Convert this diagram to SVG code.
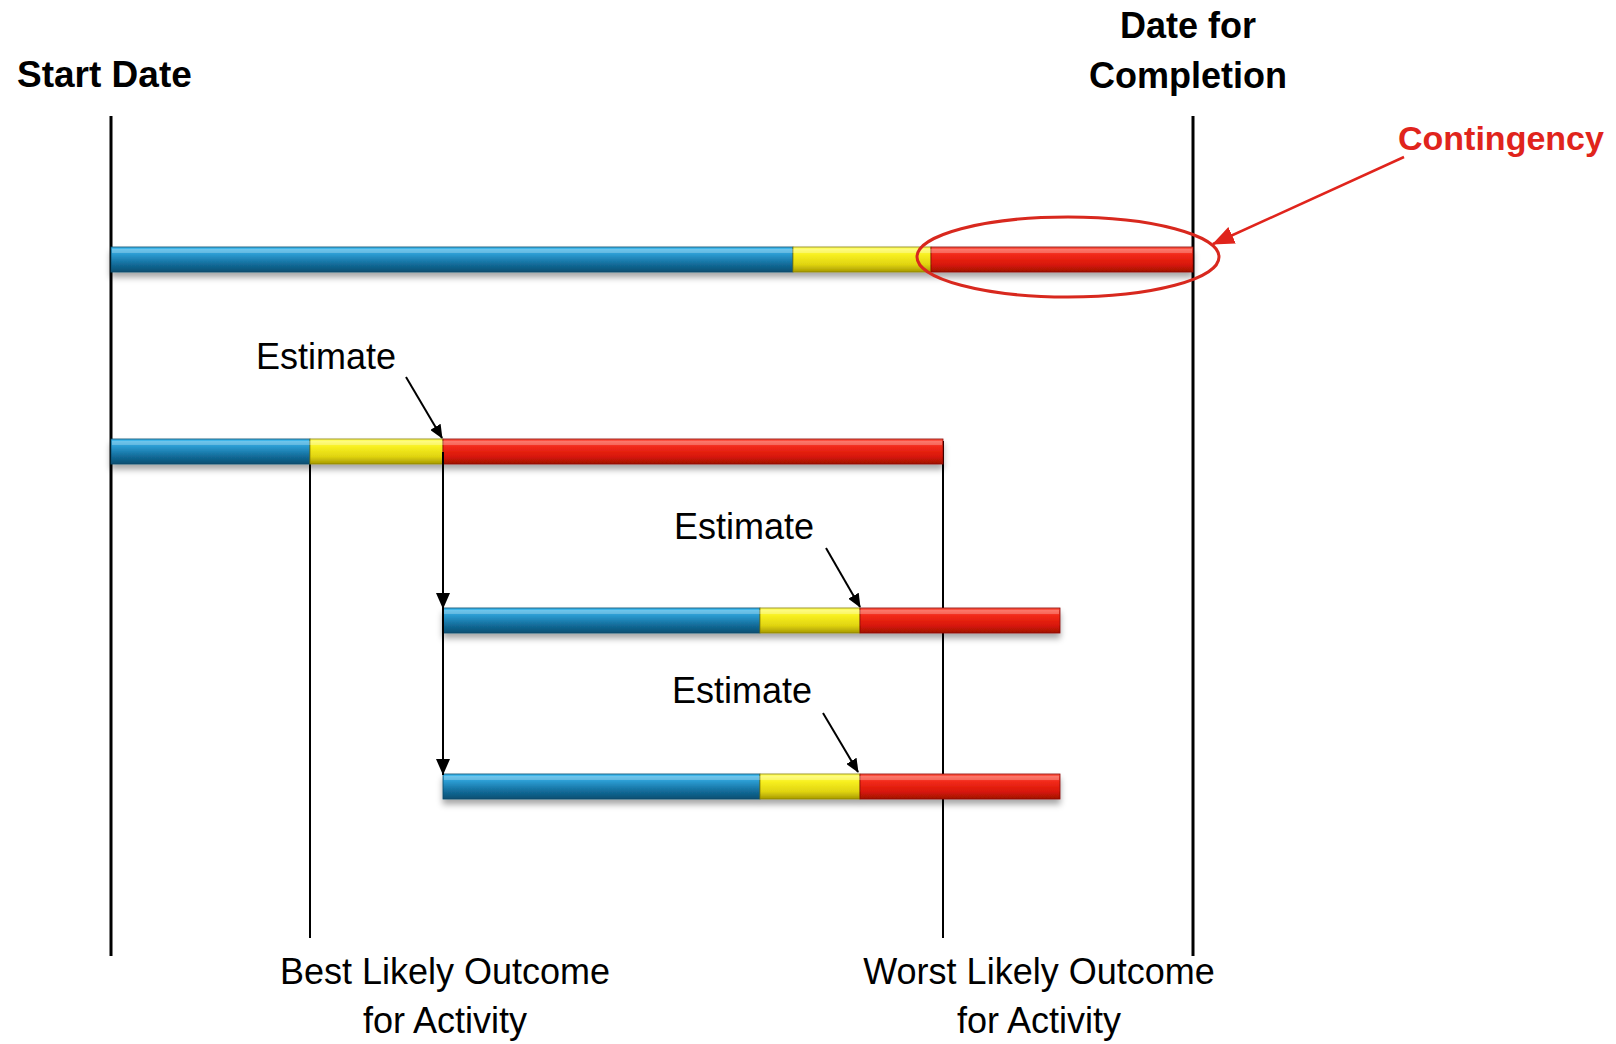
<svg xmlns="http://www.w3.org/2000/svg" width="1616" height="1044" viewBox="0 0 1616 1044">
<style>
.lbl{font-family:"Liberation Sans",Arial,sans-serif;font-size:36px;fill:#000}
.bold{font-weight:bold}
.red{fill:#e0241c}
.vline{stroke:#000;stroke-width:3;fill:none}
.tline{stroke:#000;stroke-width:2;fill:none}
.conn{stroke:#000;stroke-width:2;fill:none}
.blue{fill:url(#gBlue);stroke:#0a4a6a;stroke-width:0.8}
.yellow{fill:url(#gYellow);stroke:#8a8000;stroke-width:0.8}
.redbar{fill:url(#gRed);stroke:#8a0c05;stroke-width:0.8}
.hl{fill:#fff;opacity:0.25}
</style>
<defs>
<linearGradient id="gBlue" x1="0" y1="0" x2="0" y2="1">
<stop offset="0" stop-color="#45bdf0"/><stop offset="0.3" stop-color="#2a9ad0"/><stop offset="0.7" stop-color="#126a98"/><stop offset="1" stop-color="#0b4f72"/>
</linearGradient>
<linearGradient id="gYellow" x1="0" y1="0" x2="0" y2="1">
<stop offset="0" stop-color="#ffff70"/><stop offset="0.3" stop-color="#f8f020"/><stop offset="0.7" stop-color="#e0d410"/><stop offset="1" stop-color="#a89a00"/>
</linearGradient>
<linearGradient id="gRed" x1="0" y1="0" x2="0" y2="1">
<stop offset="0" stop-color="#ff5a48"/><stop offset="0.3" stop-color="#f22a1a"/><stop offset="0.7" stop-color="#d81808"/><stop offset="1" stop-color="#a01005"/>
</linearGradient>
<filter id="shadow" x="-5%" y="-50%" width="110%" height="250%">
<feDropShadow dx="0" dy="5" stdDeviation="3" flood-color="#000" flood-opacity="0.35"/>
</filter>
<marker id="ah" markerWidth="14" markerHeight="12" refX="13" refY="6" orient="auto" markerUnits="userSpaceOnUse">
<path d="M0,0 L14,6 L0,12 z" fill="#000"/>
</marker>
<marker id="ahv" markerWidth="16" markerHeight="14" refX="16" refY="7" orient="auto" markerUnits="userSpaceOnUse">
<path d="M0,0 L16,7 L0,14 z" fill="#000"/>
</marker>
<marker id="ahr" markerWidth="22" markerHeight="18" refX="21" refY="9" orient="auto" markerUnits="userSpaceOnUse">
<path d="M0,0 L22,9 L0,18 z" fill="#e0241c"/>
</marker>
</defs>

<g id="timeline-lines">
<line class="vline" x1="111" y1="116" x2="111" y2="956"/>
<line class="vline" x1="1193" y1="116" x2="1193" y2="956"/>
<line class="tline" x1="310" y1="452" x2="310" y2="938"/>
<line class="tline" x1="943" y1="441" x2="943" y2="938"/>
</g>

<g id="bar1" filter="url(#shadow)">
<rect class="blue" x="111" y="247" width="682" height="25"/>
<rect class="yellow" x="793" y="247" width="138" height="25"/>
<rect class="redbar" x="931" y="247" width="262" height="25"/>
<rect class="hl" x="112" y="249" width="1080" height="4"/>
</g>

<g id="bar2" filter="url(#shadow)">
<rect class="blue" x="111" y="439" width="199" height="25"/>
<rect class="yellow" x="310" y="439" width="133" height="25"/>
<rect class="redbar" x="443" y="439" width="500" height="25"/>
<rect class="hl" x="112" y="441" width="830" height="4"/>
</g>

<g id="bar3" filter="url(#shadow)">
<rect class="blue" x="443" y="608" width="317" height="25"/>
<rect class="yellow" x="760" y="608" width="100" height="25"/>
<rect class="redbar" x="860" y="608" width="200" height="25"/>
<rect class="hl" x="444" y="610" width="615" height="4"/>
</g>

<g id="bar4" filter="url(#shadow)">
<rect class="blue" x="443" y="774" width="317" height="25"/>
<rect class="yellow" x="760" y="774" width="100" height="25"/>
<rect class="redbar" x="860" y="774" width="200" height="25"/>
<rect class="hl" x="444" y="776" width="615" height="4"/>
</g>

<g id="contingency-ellipse">
<ellipse cx="1068" cy="257" rx="151" ry="40" fill="none" stroke="#d8281e" stroke-width="3"/>
</g>

<g id="connectors">
<line class="conn" x1="443" y1="452" x2="443" y2="609" marker-end="url(#ahv)"/>
<line class="conn" x1="443" y1="609" x2="443" y2="775" marker-end="url(#ahv)"/>
<line class="conn" x1="406" y1="377" x2="442" y2="438" marker-end="url(#ah)"/>
<line class="conn" x1="826" y1="548" x2="860" y2="607" marker-end="url(#ah)"/>
<line class="conn" x1="823" y1="713" x2="858" y2="772" marker-end="url(#ah)"/>
<line x1="1404" y1="157" x2="1213" y2="244" stroke="#e0241c" stroke-width="2.5" marker-end="url(#ahr)"/>
</g>

<g id="labels">
<text class="lbl bold" x="17" y="87" style="font-size:37px">Start Date</text>
<text class="lbl bold" x="1188" y="38" text-anchor="middle">Date for</text>
<text class="lbl bold" x="1188" y="88" text-anchor="middle">Completion</text>
<text class="lbl bold red" x="1398" y="150" style="font-size:34px">Contingency</text>
<text class="lbl" x="326" y="369" text-anchor="middle">Estimate</text>
<text class="lbl" x="744" y="539" text-anchor="middle">Estimate</text>
<text class="lbl" x="742" y="703" text-anchor="middle">Estimate</text>
<text class="lbl" x="445" y="984" text-anchor="middle">Best Likely Outcome</text>
<text class="lbl" x="445" y="1033" text-anchor="middle">for Activity</text>
<text class="lbl" x="1039" y="984" text-anchor="middle">Worst Likely Outcome</text>
<text class="lbl" x="1039" y="1033" text-anchor="middle">for Activity</text>
</g>
</svg>
